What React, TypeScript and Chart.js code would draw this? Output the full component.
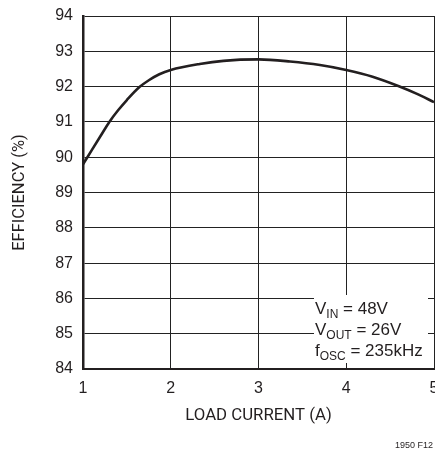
import React, { useEffect, useRef } from "react";
import { Chart, registerables } from "chart.js";

Chart.register(...registerables);

const loadCurrent = [1, 1.1, 1.2, 1.3, 1.4, 1.5, 1.64, 1.75, 1.87, 2, 2.33, 2.6, 3, 3.36, 3.7, 4, 4.3, 4.6, 4.8, 5];
const efficiency = [89.8, 90.2, 90.6, 91.0, 91.33, 91.62, 91.98, 92.18, 92.35, 92.47, 92.64, 92.73, 92.77, 92.71, 92.61, 92.47, 92.28, 92.01, 91.8, 91.56];
const xTicks = [1, 2, 3, 4, 5];
const yTicks = [84, 85, 86, 87, 88, 89, 90, 91, 92, 93, 94];
const annotationLines = [
  { main: "V", sub: "IN", rest: " = 48V" },
  { main: "V", sub: "OUT", rest: " = 26V" },
  { main: "f", sub: "OSC", rest: " = 235kHz" },
];
const figureId = "1950 F12";

const FONT = "'Liberation Sans', Arial, Helvetica, sans-serif";
const TITLE_FONT = "Roboto, 'Liberation Sans', sans-serif";

const annotationPlugin = {
  id: "annotationBox",
  afterDatasetsDraw(chart: any) {
    const { ctx, chartArea } = chart;
    const boxLeft = chartArea.right - 120;
    const boxRight = chartArea.right - 6;
    const boxTop = chartArea.bottom - 74;
    const boxBottom = chartArea.bottom - 6;
    ctx.save();
    ctx.fillStyle = "#ffffff";
    ctx.fillRect(boxLeft, boxTop, boxRight - boxLeft, boxBottom - boxTop);
    ctx.fillStyle = "#231f20";
    ctx.textBaseline = "alphabetic";
    ctx.textAlign = "left";
    annotationLines.forEach((ln, i) => {
      const y = boxTop + 19 + i * 21;
      let x = boxLeft + 1;
      ctx.font = `17px ${FONT}`;
      ctx.fillText(ln.main, x, y);
      x += ctx.measureText(ln.main).width;
      ctx.font = `12px ${FONT}`;
      ctx.fillText(ln.sub, x, y + 4);
      x += ctx.measureText(ln.sub).width;
      ctx.font = `17px ${FONT}`;
      ctx.fillText(ln.rest, x, y);
    });
    ctx.restore();
  },
  afterDraw(chart: any) {
    const { ctx } = chart;
    ctx.save();
    ctx.fillStyle = "#231f20";
    ctx.font = `9px ${FONT}`;
    ctx.textAlign = "right";
    ctx.textBaseline = "alphabetic";
    ctx.fillText(figureId, chart.width - 2, chart.height - 1);
    ctx.restore();
  },
};

export default function App() {
  const ref = useRef<HTMLCanvasElement>(null);
  useEffect(() => {
    if (!ref.current) return;
    const chart = new Chart(ref.current, {
      type: "line",
      data: {
        datasets: [
          {
            data: loadCurrent.map((x, i) => ({ x, y: efficiency[i] })),
            borderColor: "#231f20",
            borderWidth: 2.6,
            pointRadius: 0,
            cubicInterpolationMode: "monotone",
            fill: false,
          },
        ],
      },
      options: {
        responsive: false,
        animation: false,
        events: [],
        layout: { padding: { top: 16, right: 1, left: 0, bottom: 0 } },
        plugins: { legend: { display: false }, tooltip: { enabled: false } },
        scales: {
          x: {
            type: "linear",
            min: xTicks[0],
            max: xTicks[xTicks.length - 1],
            afterBuildTicks: (s: any) => {
              s.ticks = xTicks.map((v) => ({ value: v }));
            },
            ticks: {
              color: "#231f20",
              font: { family: FONT, size: 16 },
              padding: 10,
              maxRotation: 0,
              autoSkip: false,
            },
            grid: { color: "#222", lineWidth: 1, drawTicks: false },
            border: { display: true, color: "#231f20", width: 2 },
            title: {
              display: true,
              text: "LOAD CURRENT (A)",
              color: "#231f20",
              font: { family: TITLE_FONT, size: 16.8 },
              padding: { top: 0, bottom: 23 },
            },
            afterFit: (s: any) => {
              s.height = 80;
              s.paddingLeft = 0;
              s.paddingRight = 0;
            },
          },
          y: {
            type: "linear",
            min: yTicks[0],
            max: yTicks[yTicks.length - 1],
            afterBuildTicks: (s: any) => {
              s.ticks = yTicks.map((v) => ({ value: v }));
            },
            ticks: {
              color: "#231f20",
              font: { family: FONT, size: 16 },
              padding: 10,
              autoSkip: false,
            },
            grid: { color: "#222", lineWidth: 1, drawTicks: false },
            border: { display: true, color: "#231f20", width: 2.5 },
            title: {
              display: true,
              text: "EFFICIENCY (%)",
              color: "#231f20",
              font: { family: TITLE_FONT, size: 16.5 },
              padding: { top: 10, bottom: 0 },
            },
            afterFit: (s: any) => {
              s.width = 83;
              s.paddingTop = 0;
              s.paddingBottom = 0;
            },
          },
        },
      },
      plugins: [annotationPlugin],
    });
    return () => chart.destroy();
  }, []);
  return (
    <div style={{ position: "absolute", left: 0, top: 0, width: 435, height: 449, background: "#fff" }}>
      <canvas ref={ref} width={435} height={449} />
    </div>
  );
}
